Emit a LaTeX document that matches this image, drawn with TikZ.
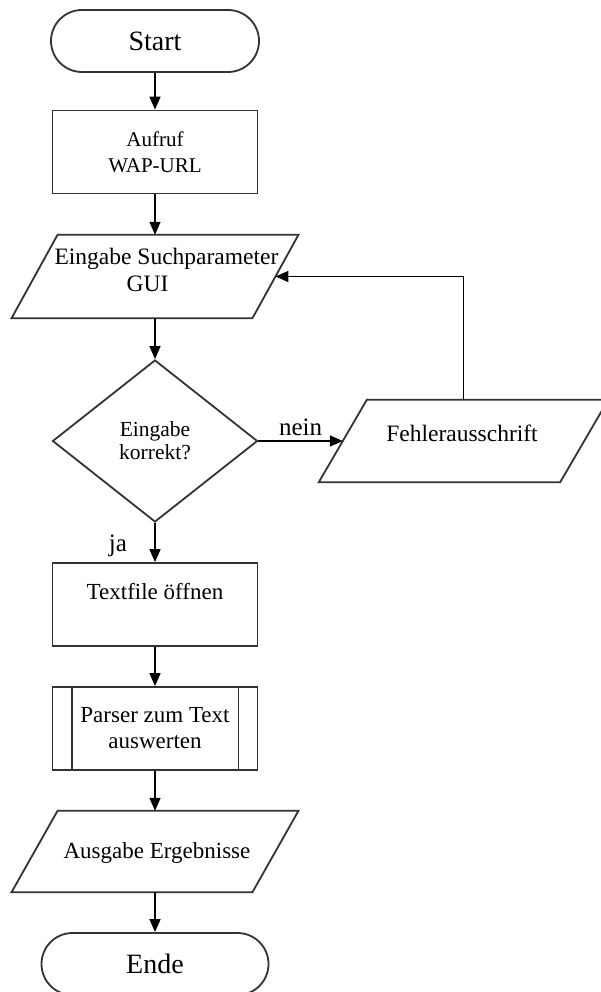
\documentclass[tikz,border=0pt]{standalone}
\usepackage{fontspec}
\setmainfont{Liberation Serif}
\usetikzlibrary{shapes.geometric,arrows.meta}
\begin{document}
\begin{tikzpicture}[x=1pt,y=-1pt,
  shp/.style={draw=black!80, line width=1.8pt, inner sep=0pt, align=center, fill=white},
  term/.style={shp, rectangle, rounded corners=31pt, minimum height=62pt, font=\fontsize{28}{30}\selectfont},
  proc/.style={shp, rectangle, minimum width=205pt, minimum height=83pt, font=\fontsize{23}{26}\selectfont},
  iobox/.style={rectangle, inner sep=0pt, align=center, font=\fontsize{23}{26}\selectfont},
  para/.style={draw=black!80, line width=1.8pt, fill=white, line join=miter},
  dec/.style={shp, diamond, aspect=1.27, minimum width=205pt, minimum height=162pt, font=\fontsize{21.5}{23}\selectfont},
  txt/.style={inner sep=0pt, font=\fontsize{23.5}{27}\selectfont},
  conn/.style={draw=black, line width=1.4pt, -{Triangle[length=13pt,width=11pt]}},
  lbl/.style={inner sep=0pt, font=\fontsize{25}{28}\selectfont}
]
\useasboundingbox (0,0) rectangle (601,992);

\node[term, minimum width=208pt] (start) at (155,41) {Start};
\node[proc, font=\fontsize{21}{26}\selectfont] (call) at (155,152) {Aufruf\\WAP-URL};

% input parallelogram
\node[iobox, minimum width=240.5pt, minimum height=83pt] (inp) at (155,276.5) {};
\draw[para] ([xshift=-23pt]inp.south west) -- ([xshift=23pt]inp.north west)
  -- ([xshift=23pt]inp.north east) -- ([xshift=-23pt]inp.south east) -- cycle;
\node[txt, align=left] (inpT) at (166.5,270) {Eingabe Suchparameter\\\hspace*{72pt}GUI};

\node[dec] (chk) at (155,441) {Eingabe\\korrekt?};

% error parallelogram
\node[iobox, minimum width=241pt, minimum height=82pt] (err) at (463.5,441) {};
\draw[para] ([xshift=-24pt]err.south west) -- ([xshift=24pt]err.north west)
  -- ([xshift=24pt]err.north east) -- ([xshift=-24pt]err.south east) -- cycle;
\node[txt] (errT) at (462,433) {Fehlerausschrift};

\node[proc] (open) at (155,604.5) {Textfile öffnen\\\mbox{}};
\node[proc] (pars) at (155,728.5) {Parser zum Text\\auswerten};
\draw[shp] ([xshift=20pt]pars.north west) -- ([xshift=20pt]pars.south west);
\draw[shp] ([xshift=-20pt]pars.north east) -- ([xshift=-20pt]pars.south east);

% output parallelogram
\node[iobox, minimum width=240.5pt, minimum height=81pt] (out) at (155,851.5) {};
\draw[para] ([xshift=-23pt]out.south west) -- ([xshift=23pt]out.north west)
  -- ([xshift=23pt]out.north east) -- ([xshift=-23pt]out.south east) -- cycle;
\node[txt, font=\fontsize{23}{26}\selectfont] (outT) at (157,853) {Ausgabe Ergebnisse};

\node[term, minimum width=227pt] (end) at (155,964) {Ende};

\draw[conn] (start) -- (call);
\draw[conn] (call) -- (inp);
\draw[conn] (inp) -- (chk);
\draw[conn] (chk) -- node[lbl, above=5pt] (nein) {nein} (err);
\draw[conn] (err.north) |- (inp);
\draw[conn] (chk) -- (open);
\node[lbl] (ja) at (118,546) {ja};
\draw[conn] (open) -- (pars);
\draw[conn] (pars) -- (out);
\draw[conn] (out) -- (end);
\end{tikzpicture}
\end{document}
